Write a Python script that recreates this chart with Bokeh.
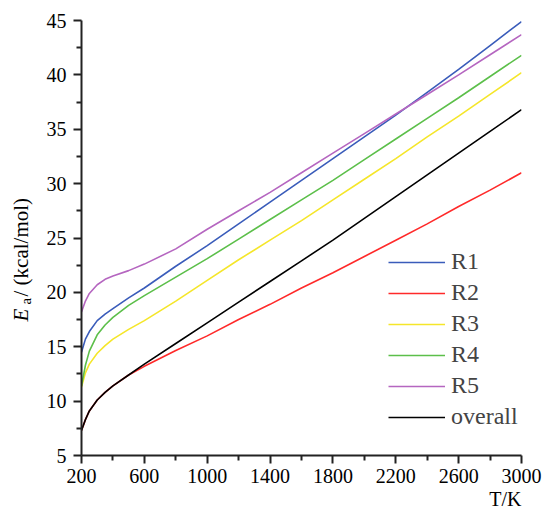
import math
from bokeh.plotting import figure
from bokeh.models import Range1d, FixedTicker, Label, Legend, LegendItem, Title
from bokeh.embed import file_html
from bokeh.resources import INLINE

# ---- data ----
T = [200, 225, 250, 300, 350, 400, 500, 600, 800, 1000, 1200, 1400, 1600,
     1800, 2000, 2200, 2400, 2600, 2800, 3000]
R1 = [14.5, 15.7, 16.4, 17.4, 18.0, 18.5, 19.5, 20.4, 22.4, 24.3, 26.3, 28.3,
      30.3, 32.3, 34.3, 36.3, 38.4, 40.5, 42.7, 44.9]
R2 = [7.3, 8.3, 9.1, 10.1, 10.8, 11.4, 12.4, 13.2, 14.65, 16.0, 17.5, 18.9,
      20.4, 21.8, 23.3, 24.8, 26.3, 27.9, 29.4, 31.0]
R3 = [11.3, 12.6, 13.4, 14.4, 15.1, 15.7, 16.6, 17.4, 19.2, 21.1, 23.0, 24.8,
      26.6, 28.5, 30.4, 32.3, 34.3, 36.2, 38.2, 40.2]
R4 = [11.4, 13.3, 14.6, 16.1, 17.0, 17.7, 18.8, 19.7, 21.4, 23.1, 24.9, 26.7,
      28.5, 30.3, 32.2, 34.1, 36.0, 37.9, 39.85, 41.8]
R5 = [18.2, 19.2, 19.9, 20.7, 21.2, 21.5, 22.0, 22.6, 24.0, 25.8, 27.5, 29.2,
      31.0, 32.8, 34.6, 36.4, 38.2, 40.0, 41.85, 43.7]
OVERALL = [7.3, 8.3, 9.1, 10.1, 10.8, 11.4, 12.4, 13.4, 15.3, 17.2, 19.1, 21.0,
           22.9, 24.8, 26.8, 28.8, 30.8, 32.8, 34.8, 36.8]

series_names = ["R1", "R2", "R3", "R4", "R5", "overall"]
series_vals = [R1, R2, R3, R4, R5, OVERALL]
series_colors = ["#3a5cba", "#ff2a2a", "#f5e62a", "#5cbf4a", "#b566c0", "#000000"]

x_major = [200, 600, 1000, 1400, 1800, 2200, 2600, 3000]
x_minor = [400, 800, 1200, 1600, 2000, 2400, 2800]
y_major = [5, 10, 15, 20, 25, 30, 35, 40, 45]
y_minor = [7.5, 12.5, 17.5, 22.5, 27.5, 32.5, 37.5, 42.5]

FONT = "Liberation Serif"
AXIS_COLOR = "#222222"

W, H = 545, 510
BL, BR, BT, BB = 81, 22, 20, 55
FW, FH = W - BL - BR, H - BT - BB
X0, X1, Y0, Y1 = 200, 3000, 5, 45

p = figure(width=W, height=H, output_backend="svg", toolbar_location=None,
           x_range=Range1d(X0, X1), y_range=Range1d(Y0, Y1),
           min_border_left=BL, min_border_right=BR, min_border_top=BT,
           min_border_bottom=BB)
p.outline_line_color = None
p.xgrid.grid_line_color = None
p.ygrid.grid_line_color = None
p.background_fill_color = "white"
p.border_fill_color = "white"

for ax, maj, mnr in ((p.xaxis[0], x_major, x_minor), (p.yaxis[0], y_major, y_minor)):
    ax.ticker = FixedTicker(ticks=maj, minor_ticks=mnr)
    ax.axis_line_color = AXIS_COLOR
    ax.axis_line_width = 2
    ax.major_tick_line_color = AXIS_COLOR
    ax.major_tick_line_width = 2
    ax.minor_tick_line_color = AXIS_COLOR
    ax.minor_tick_line_width = 2
    ax.major_tick_out = 8
    ax.major_tick_in = 0
    ax.minor_tick_out = 5
    ax.minor_tick_in = 0
    ax.major_label_text_font = FONT
    ax.major_label_text_font_size = "20px"
    ax.major_label_text_color = "black"

p.yaxis[0].major_label_standoff = 7
p.xaxis[0].major_label_standoff = 5

items = []
for name, vals, col in zip(series_names, series_vals, series_colors):
    r = p.line(T, vals, line_color=col, line_width=1.6)
    items.append(LegendItem(label=name, renderers=[r]))

legend = Legend(items=items, location=(307, 25), padding=0, margin=0,
                border_line_color=None, background_fill_alpha=0,
                label_text_font=FONT, label_text_font_size="24px",
                glyph_width=57, glyph_height=24, label_height=24,
                label_standoff=6, spacing=4)
p.add_layout(legend, "center")

# x-axis title, right-aligned under the axis
p.add_layout(Title(text="T/K", align="right", text_font=FONT,
                   text_font_size="20px", text_font_style="normal",
                   text_color="black", standoff=0, offset=0), "below")


def dx(px_from_left_edge):
    return X0 + (px_from_left_edge - BL) * (X1 - X0) / FW


def dy(px_from_top_edge):
    return Y0 + (BT + FH - px_from_top_edge) * (Y1 - Y0) / FH


# y-axis title pieces (italic E, subscript a, rest); they live in side panels
# so they are not clipped to the plot frame, but are drawn at the left.
for txt, xx, yy, size, style, side in (("E", 20, 321, "21px", "italic", "right"),
                                       ("a", 25, 304, "15px", "normal", "left"),
                                       ("/ (kcal/mol)", 20, 296, "21px", "normal", "left")):
    p.add_layout(Label(x=dx(xx), y=dy(yy), text=txt, text_font=FONT,
                       text_font_size=size, text_font_style=style,
                       angle=math.pi / 2, text_align="left",
                       text_baseline="alphabetic", text_color="black"), side)

open("out.html", "w").write(file_html(p, INLINE))
